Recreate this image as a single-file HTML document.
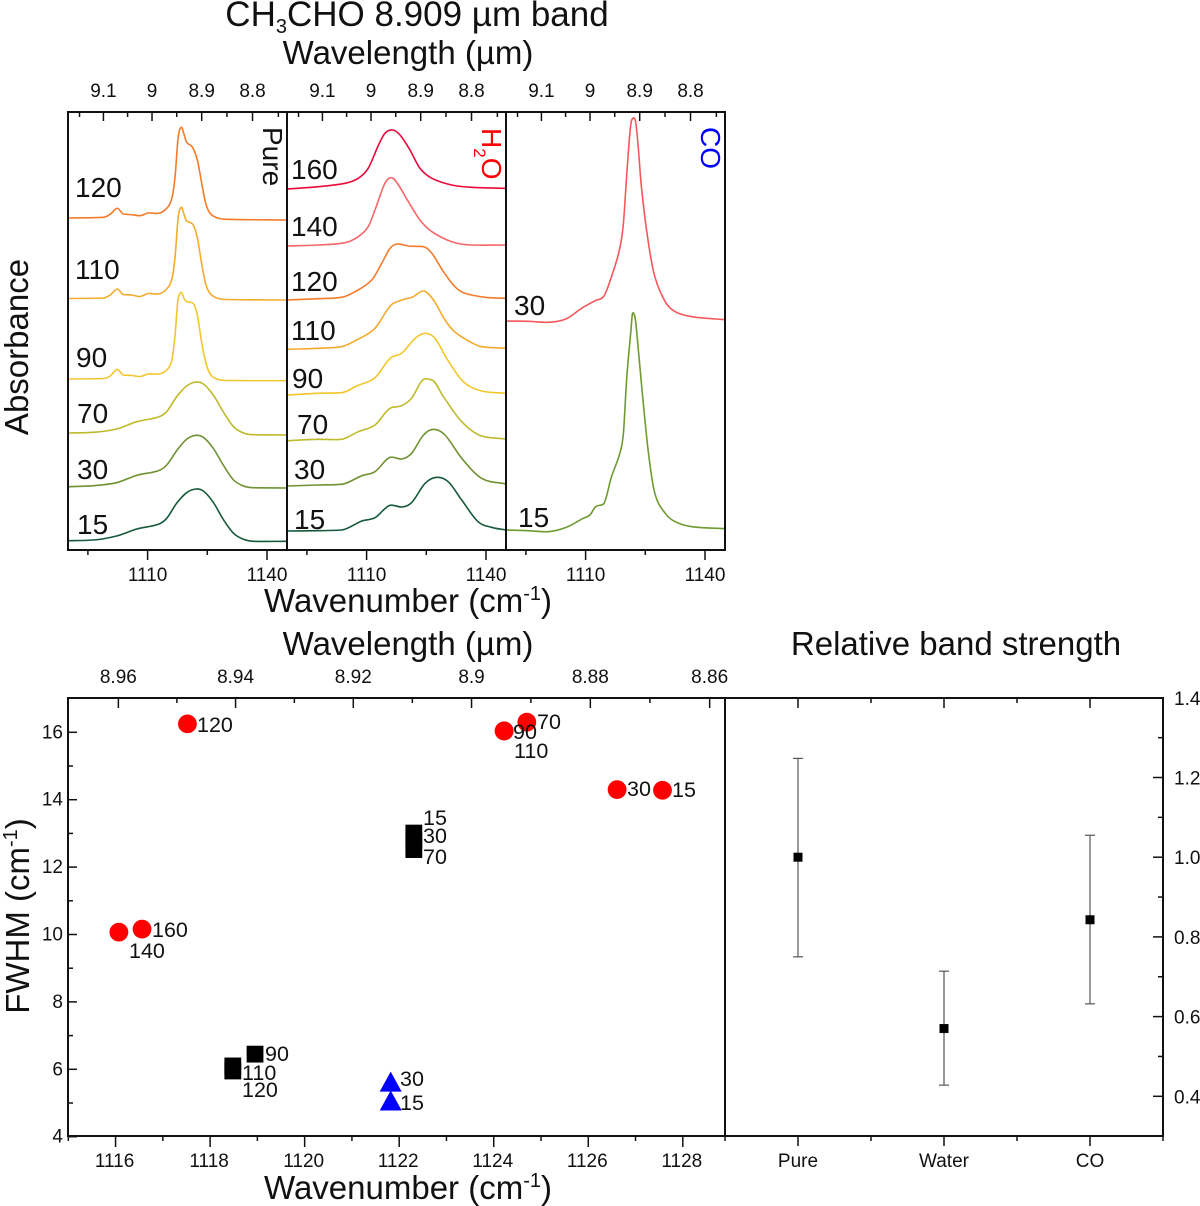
<!DOCTYPE html>
<html lang="en">
<head>
<meta charset="utf-8">
<title>CH3CHO 8.909 µm band</title>
<style>
html,body{margin:0;padding:0;background:#fff;}
svg{display:block;}
text{font-family:"Liberation Sans",sans-serif;fill:#111;}
.axt{font-size:33px;}
.tk{font-size:19px;}
.pl{font-size:28px;}
.dl{font-size:21.5px;}
</style>
</head>
<body>
<svg xmlns="http://www.w3.org/2000/svg" width="1200" height="1206" viewBox="0 0 1200 1206">
<rect width="1200" height="1206" fill="#fff"/>

<g id="curves"></g>
<g id="ticks"></g>
<g id="points"></g>
<g id="bars"></g>
<g id="ticklabels"></g>

<g fill="none" stroke="#111" stroke-width="2">
  <rect x="68" y="112" width="657" height="438"/>
  <line x1="287" y1="112" x2="287" y2="550"/>
  <line x1="506" y1="112" x2="506" y2="550"/>
  <rect x="68" y="698" width="657" height="438"/>
  <rect x="725" y="698" width="438" height="438"/>
</g>

<text x="417" y="26" text-anchor="middle" style="font-size:35px">CH<tspan dy="7" style="font-size:20px">3</tspan><tspan dy="-7">CHO 8.909 µm band</tspan></text>
<text x="408" y="64" text-anchor="middle" class="axt">Wavelength (µm)</text>
<text x="408" y="612" text-anchor="middle" class="axt">Wavenumber (cm<tspan dy="-12" style="font-size:20px">-1</tspan><tspan dy="12">)</tspan></text>
<text transform="translate(28 347) rotate(-90)" text-anchor="middle" class="axt">Absorbance</text>
<text x="408" y="655" text-anchor="middle" class="axt">Wavelength (µm)</text>
<text x="956" y="655" text-anchor="middle" class="axt">Relative band strength</text>
<text x="408" y="1199" text-anchor="middle" class="axt">Wavenumber (cm<tspan dy="-12" style="font-size:20px">-1</tspan><tspan dy="12">)</tspan></text>
<text transform="translate(29 916) rotate(-90)" text-anchor="middle" class="axt">FWHM (cm<tspan dy="-12" style="font-size:20px">-1</tspan><tspan dy="12">)</tspan></text>

<text transform="translate(263 127) rotate(90)" class="pl">Pure</text>
<text transform="translate(482 128) rotate(90)" class="pl" style="fill:#f00">H<tspan dy="8" style="font-size:17px;fill:#f00">2</tspan><tspan dy="-8" style="fill:#f00">O</tspan></text>
<text transform="translate(701 127) rotate(90)" class="pl" style="fill:#00f">CO</text>

<g class="pl">
  <text class="pl" x="75" y="197">120</text>
  <text class="pl" x="75" y="279">110</text>
  <text class="pl" x="76" y="367">90</text>
  <text class="pl" x="77" y="423">70</text>
  <text class="pl" x="77" y="479">30</text>
  <text class="pl" x="77" y="534">15</text>
  <text class="pl" x="291" y="179">160</text>
  <text class="pl" x="291" y="236">140</text>
  <text class="pl" x="291" y="291">120</text>
  <text class="pl" x="291" y="340">110</text>
  <text class="pl" x="292" y="388">90</text>
  <text class="pl" x="297" y="434">70</text>
  <text class="pl" x="294" y="479">30</text>
  <text class="pl" x="294" y="529">15</text>
  <text class="pl" x="514" y="315">30</text>
  <text class="pl" x="518" y="527">15</text>
</g>

<g>
  <text class="dl" x="197" y="732">120</text>
  <text class="dl" x="152" y="937">160</text>
  <text class="dl" x="129" y="958">140</text>
  <text class="dl" x="537" y="729">70</text>
  <text class="dl" x="513" y="739">90</text>
  <text class="dl" x="514" y="758">110</text>
  <text class="dl" x="627" y="796">30</text>
  <text class="dl" x="672" y="797">15</text>
  <text class="dl" x="423" y="825">15</text>
  <text class="dl" x="423" y="843">30</text>
  <text class="dl" x="423" y="864">70</text>
  <text class="dl" x="265" y="1061">90</text>
  <text class="dl" x="242" y="1080">110</text>
  <text class="dl" x="242" y="1097">120</text>
  <text class="dl" x="400" y="1086">30</text>
  <text class="dl" x="400" y="1110">15</text>
</g>

<script>
// ---------- spectra data (wavenumber in cm-1, absorbance in arbitrary units with stacking offset) ----------
const wnSharp = [1090,1098.9,1100.6,1102.4,1103.9,1106,1108.1,1110.2,1112.7,1114.8,1116.1,1116.9,1117.7,1118.5,1119.2,1119.8,1121.3,1122.5,1123.6,1124.6,1125.7,1127.4,1129.9,1145];
const pure120 = [332,332.7,335.7,341.7,336,335.3,334.3,337,336.7,341.7,351.7,373.3,413.3,422.7,415,407.7,402.7,390,366.7,346.7,336.7,332.3,330.7,330];
const pure110 = [251.5,252,255,261,255.5,255,253.5,256.5,256,261,271,293,333,342.7,335,329,326,312,286,266,256.5,252,250.5,250];
const pure90 = [171,171.5,174,180.7,175,174.5,173.5,176,176,180,190,215,252,257.7,251,248.5,247,235,207,188,176,171,169.5,169.3];
const wnBroad = [1090,1096.4,1102.2,1107.3,1112.7,1114.8,1117.3,1119.8,1122.2,1124,1126.5,1129,1131.6,1134.1,1136.6,1145];
const pure70 = [117,117.7,121,128.3,133,138.3,153.3,164,168,166,155,138.3,123.3,117,115.3,115];
const pure30 = [63.3,64.3,67.3,74.7,79.3,85,99.3,110.7,114.7,112.7,101.7,85,70,64,62.3,62];
const pure15 = [9.3,10,14,21,25.7,31.7,46.7,57.3,61,59,47.7,30.7,16.7,10.7,8.7,8.7];

const wnWater160 = [1090,1097.9,1104.6,1107.9,1110.4,1113,1114.6,1116.5,1118.4,1120.9,1123.4,1126.4,1131.4,1136.4,1145];
const water160 = [361,363.3,366.7,371.7,381.7,405,416.7,420,415,400,381.7,371.7,365,362.7,361.7];
const wnWater140 = [1090,1097.9,1104.6,1107.9,1110.4,1112.1,1114.6,1116.3,1118,1120.5,1123.4,1126.4,1131.4,1136.4,1145];
const water140 = [304,305,307.3,313.3,323.3,340,366.7,372.3,365,348.3,330,318.3,308.3,305,305];
const wnWater120 = [1090,1097.9,1103.7,1107.1,1111.3,1113.8,1115.9,1117.7,1120.5,1124.3,1126.4,1129.3,1132.2,1134.7,1139.8,1145];
const water120 = [250,251.3,252.7,258.3,270,286.7,301.7,306,304,303.3,296.7,278.3,263.3,256.7,252.7,251.7];
const wnWater110 = [1090,1097.9,1103.7,1107.5,1112.1,1115.9,1118.4,1121.7,1124.3,1126.8,1129.7,1132.2,1136.4,1138.9,1145];
const water110 = [200.7,201.7,203.3,210,221.7,244,249.3,253.3,259,250,230,218,207.3,203.3,201.7];
const wnWater90 = [1090,1097.9,1103.7,1107.5,1112.1,1115.9,1118.8,1122.2,1124.7,1127.2,1130.1,1134.3,1138.9,1145];
const water90 = [155,156.7,157.3,164,172.3,191.7,196.7,211.7,216.7,211.7,191.7,168.3,159,156.7];
const wnWater70 = [1090,1097.9,1103.7,1107.9,1112.1,1115.9,1118.8,1121.3,1124.3,1126.4,1129.3,1133.9,1138.9,1145];
const water70 = [109.3,110.7,110.7,118.3,125,141.7,144.3,151.7,170.7,170,153.3,128.3,114,111];
const wnWater30 = [1090,1097.9,1103.7,1108.8,1112.1,1115.9,1118.8,1121.3,1124.3,1126.8,1129.7,1133.9,1138.9,1145];
const water30 = [64,65,65.7,74.3,78.3,92.7,91,96.7,115,120.7,115,91.7,71.7,66];
const wnWater15 = [1090,1097.9,1103.7,1108.8,1112.1,1115.9,1118.8,1121.3,1124.7,1127.6,1130.5,1133.9,1138,1141.4,1145];
const water15 = [19,19.3,20,29,32.3,44.7,43,47.3,66.7,72.7,68.3,50,28.3,22.7,20];

const wnCo30 = [1090,1095.6,1100.6,1105.2,1109,1112.4,1114.5,1116.5,1118.6,1119.5,1120.3,1121.2,1121.7,1122.4,1123,1124.1,1125.8,1127.4,1130,1132.5,1136.7,1145];
const co30 = [229,228.7,227.7,231.3,241.7,249.3,253.3,273.3,301.7,326.7,373.3,420,431,431,413.3,360,306.7,273.3,248.3,238.3,233.3,230.3];
const wnCo15 = [1090,1095.6,1100.6,1105.2,1109.4,1111.1,1112.5,1114.5,1116.5,1118.6,1119.5,1120.3,1121.4,1121.8,1122.4,1122.8,1124.1,1125.8,1127.4,1130,1132.5,1136.7,1145];
const co15 = [20,19.3,18.3,22.7,31.7,35,43.3,46,73.3,96.7,116.7,170,220,236.7,233,220,163.3,96.7,56.7,36.7,28.3,23.3,21.3];

// ---------- FWHM scatter data ----------
const waterPeak = [1116.07,1116.56,1117.52,1124.22,1124.22,1124.7,1126.61,1127.57];
const waterFwhm = [10.07,10.16,16.25,16.04,16.04,16.3,14.3,14.28];
const purePeak = [1118.48,1118.48,1118.95,1122.31,1122.31,1122.31];
const pureFwhm = [5.95,6.1,6.45,12.52,12.76,13.01];
const coPeak = [1121.82,1121.82];
const coFwhm = [5.59,5.03];

// ---------- relative band strength data ----------
const strengthCategories = ['Pure','Water','CO'];
const strengthValues = [1.0,0.57,0.843];
const strengthUpper = [1.248,0.714,1.055];
const strengthLower = [0.75,0.428,0.632];

// ---------- tick labels ----------
const spectraWnMajor = [1110,1140];
const spectraWnMinor = [1095,1125];
const spectraLambdaMajor = [9.1,9,8.9,8.8];
const spectraLambdaMinor = [9.15,9.05,8.95,8.85,8.75];
const fwhmXMajor = [1116,1118,1120,1122,1124,1126,1128];
const fwhmXMinor = [1115,1117,1119,1121,1123,1125,1127];
const fwhmYMajor = [4,6,8,10,12,14,16];
const fwhmYMinor = [5,7,9,11,13,15];
const fwhmLambdaMajor = ['8.96','8.94','8.92','8.9','8.88','8.86'];
const fwhmLambdaMinor = [8.95,8.93,8.91,8.89,8.87];
const strengthYMajor = ['0.4','0.6','0.8','1.0','1.2','1.4'];
const strengthYMinor = [0.5,0.7,0.9,1.1,1.3];

const SVGNS = 'http://www.w3.org/2000/svg';
const curvesG = document.getElementById('curves');
const ticksG = document.getElementById('ticks');
const pointsG = document.getElementById('points');
const barsG = document.getElementById('bars');
const labelsG = document.getElementById('ticklabels');

// axis functions
function specX(left, wn){ return left + (wn - 1090) * 3.98; }
function specY(a){ return 550 - a * (438 / 438); }
function fwhmX(w){ return 68.3 + (w - 1115) * 47.27; }
function fwhmY(v){ return 1136.7 - (v - 4) * 33.7; }
function fwhmTopX(l){ return 118.3 + (10000 / l - 1116.07) * 46.94; }
function strX(i){ return 798 + i * 146; }
function strY(v){ return 1096.3 - (v - 0.4) * 398.5; }

function smoothPath(xs, ys){
  const n = xs.length, d = [], m = [];
  for (let i = 0; i < n - 1; i++) d.push((ys[i+1] - ys[i]) / (xs[i+1] - xs[i]));
  m.push(d[0]);
  for (let i = 1; i < n - 1; i++) {
    let t = (ys[i+1] - ys[i-1]) / (xs[i+1] - xs[i-1]);
    if (d[i-1] * d[i] > 0) {
      const lim = 2.5 * Math.min(Math.abs(d[i-1]), Math.abs(d[i]));
      if (Math.abs(t) > lim) t = Math.sign(t) * lim;
    } else {
      t *= 0.6;
    }
    m.push(t);
  }
  m.push(d[n-2]);
  let s = 'M' + xs[0].toFixed(2) + ' ' + ys[0].toFixed(2);
  for (let i = 0; i < n - 1; i++) {
    const h = (xs[i+1] - xs[i]) / 3;
    s += 'C' + (xs[i] + h).toFixed(2) + ' ' + (ys[i] + m[i] * h).toFixed(2) + ' ' +
         (xs[i+1] - h).toFixed(2) + ' ' + (ys[i+1] - m[i+1] * h).toFixed(2) + ' ' +
         xs[i+1].toFixed(2) + ' ' + ys[i+1].toFixed(2);
  }
  return s;
}

function drawCurve(left, wn, vals, color, name){
  const p = document.createElementNS(SVGNS, 'path');
  p.setAttribute('d', smoothPath(wn.map(w => specX(left, w)), vals.map(specY)));
  p.setAttribute('fill', 'none');
  p.setAttribute('stroke', color);
  p.setAttribute('stroke-width', '1.6');
  
  
  curvesG.appendChild(p);
}

drawCurve(68, wnSharp, pure120, '#f47b2b', 'pure-120-curve');
drawCurve(68, wnSharp, pure110, '#f4ab2e', 'pure-110-curve');
drawCurve(68, wnSharp, pure90, '#f2c62c', 'pure-90-curve');
drawCurve(68, wnBroad, pure70, '#bfba2c', 'pure-70-curve');
drawCurve(68, wnBroad, pure30, '#6f9232', 'pure-30-curve');
drawCurve(68, wnBroad, pure15, '#15593a', 'pure-15-curve');
drawCurve(287, wnWater160, water160, '#e8083a', 'water-160-curve');
drawCurve(287, wnWater140, water140, '#f5686a', 'water-140-curve');
drawCurve(287, wnWater120, water120, '#f47b2b', 'water-120-curve');
drawCurve(287, wnWater110, water110, '#f4ab2e', 'water-110-curve');
drawCurve(287, wnWater90, water90, '#f2c62c', 'water-90-curve');
drawCurve(287, wnWater70, water70, '#bfba2c', 'water-70-curve');
drawCurve(287, wnWater30, water30, '#6f9232', 'water-30-curve');
drawCurve(287, wnWater15, water15, '#15593a', 'water-15-curve');
drawCurve(506, wnCo30, co30, '#f5585a', 'co-30-curve');
drawCurve(506, wnCo15, co15, '#6e9a30', 'co-15-curve');

function tick(x1, y1, x2, y2, name, color, width){
  const l = document.createElementNS(SVGNS, 'line');
  l.setAttribute('x1', x1);
  l.setAttribute('y1', y1);
  l.setAttribute('x2', x2);
  l.setAttribute('y2', y2);
  l.setAttribute('stroke', color || '#111');
  l.setAttribute('stroke-width', width || 1.5);
  
  
  (color ? barsG : ticksG).appendChild(l);
}

function tickText(x, y, str, anchor, name){
  const t = document.createElementNS(SVGNS, 'text');
  t.setAttribute('x', x);
  t.setAttribute('y', y);
  t.setAttribute('text-anchor', anchor);
  t.setAttribute('class', 'tk');
  
  
  t.textContent = str;
  labelsG.appendChild(t);
}

[68, 287, 506].forEach(function(left){
  spectraWnMajor.forEach(function(w){
    tick(specX(left, w), 550, specX(left, w), 560, 'x-tick-major');
    tickText(specX(left, w), 581, String(w), 'middle', 'x-tick-label');
  });
  spectraWnMinor.forEach(function(w){
    tick(specX(left, w), 550, specX(left, w), 555, 'x-tick-minor');
  });
  spectraLambdaMajor.forEach(function(l){
    const x = specX(left, 10000 / l);
    tick(x, 112, x, 121, 'wavelength-tick-major');
    tickText(x, 97, String(l), 'middle', 'wavelength-tick-label');
  });
  spectraLambdaMinor.forEach(function(l){
    const x = specX(left, 10000 / l);
    tick(x, 112, x, 117, 'wavelength-tick-minor');
  });
});

fwhmXMajor.forEach(function(w){
  tick(fwhmX(w), 1136, fwhmX(w), 1147, 'fwhm-x-tick-major');
  tickText(fwhmX(w) - 1, 1167, String(w), 'middle', 'fwhm-x-tick-label');
});
fwhmXMinor.forEach(function(w){
  tick(fwhmX(w), 1136, fwhmX(w), 1141, 'fwhm-x-tick-minor');
});
fwhmYMajor.forEach(function(v){
  tick(68, fwhmY(v), 77, fwhmY(v), 'fwhm-y-tick-major');
  tickText(63, fwhmY(v) + 6, String(v), 'end', 'fwhm-y-tick-label');
});
fwhmYMinor.forEach(function(v){
  tick(68, fwhmY(v), 73, fwhmY(v), 'fwhm-y-tick-minor');
});
fwhmLambdaMajor.forEach(function(l){
  const x = fwhmTopX(parseFloat(l));
  tick(x, 698, x, 708, 'fwhm-wavelength-tick-major');
  tickText(x, 683, l, 'middle', 'fwhm-wavelength-tick-label');
});
fwhmLambdaMinor.forEach(function(l){
  const x = fwhmTopX(l);
  tick(x, 698, x, 703, 'fwhm-wavelength-tick-minor');
});

strengthCategories.forEach(function(c, i){
  tick(strX(i), 698, strX(i), 708, 'strength-top-tick-major');
  tick(strX(i), 1136, strX(i), 1146, 'strength-x-tick-major');
  tickText(strX(i), 1167, c, 'middle', 'strength-category-label');
});
[0, 1, 2, 3].forEach(function(i){
  tick(strX(i) - 73, 698, strX(i) - 73, 703, 'strength-top-tick-minor');
  tick(strX(i) - 73, 1136, strX(i) - 73, 1141, 'strength-x-tick-minor');
});
strengthYMajor.forEach(function(l){
  const y = strY(parseFloat(l));
  tick(1153, y, 1163, y, 'strength-y-tick-major');
  tickText(1174, y + 7, l, 'start', 'strength-y-tick-label');
});
strengthYMinor.forEach(function(v){
  tick(1158, strY(v), 1163, strY(v), 'strength-y-tick-minor');
});

// scatter marks
waterPeak.forEach(function(w, i){
  const c = document.createElementNS(SVGNS, 'circle');
  c.setAttribute('cx', fwhmX(w));
  c.setAttribute('cy', fwhmY(waterFwhm[i]));
  c.setAttribute('r', 9.4);
  c.setAttribute('fill', '#f00');
  
  
  pointsG.appendChild(c);
});
purePeak.forEach(function(w, i){
  const r = document.createElementNS(SVGNS, 'rect');
  r.setAttribute('x', fwhmX(w) - 8.4);
  r.setAttribute('y', fwhmY(pureFwhm[i]) - 8.4);
  r.setAttribute('width', 16.8);
  r.setAttribute('height', 16.8);
  r.setAttribute('fill', '#000');
  
  
  pointsG.appendChild(r);
});
coPeak.forEach(function(w, i){
  const x = fwhmX(w), y = fwhmY(coFwhm[i]);
  const p = document.createElementNS(SVGNS, 'polygon');
  p.setAttribute('points', x + ',' + (y - 11.5) + ' ' + (x + 11) + ',' + (y + 8.5) + ' ' + (x - 11) + ',' + (y + 8.5));
  p.setAttribute('fill', '#00f');
  
  
  pointsG.appendChild(p);
});

// band strength marks
strengthValues.forEach(function(v, i){
  const x = strX(i);
  tick(x, strY(strengthUpper[i]), x, strY(strengthLower[i]), 'error-bar', '#555', 1.2);
  tick(x - 5, strY(strengthUpper[i]), x + 5, strY(strengthUpper[i]), 'error-cap-upper', '#555', 1.2);
  tick(x - 5, strY(strengthLower[i]), x + 5, strY(strengthLower[i]), 'error-cap-lower', '#555', 1.2);
  const r = document.createElementNS(SVGNS, 'rect');
  r.setAttribute('x', x - 4.5);
  r.setAttribute('y', strY(v) - 4.5);
  r.setAttribute('width', 9);
  r.setAttribute('height', 9);
  r.setAttribute('fill', '#000');
  
  
  barsG.appendChild(r);
});
</script>
</svg>
</body>
</html>
